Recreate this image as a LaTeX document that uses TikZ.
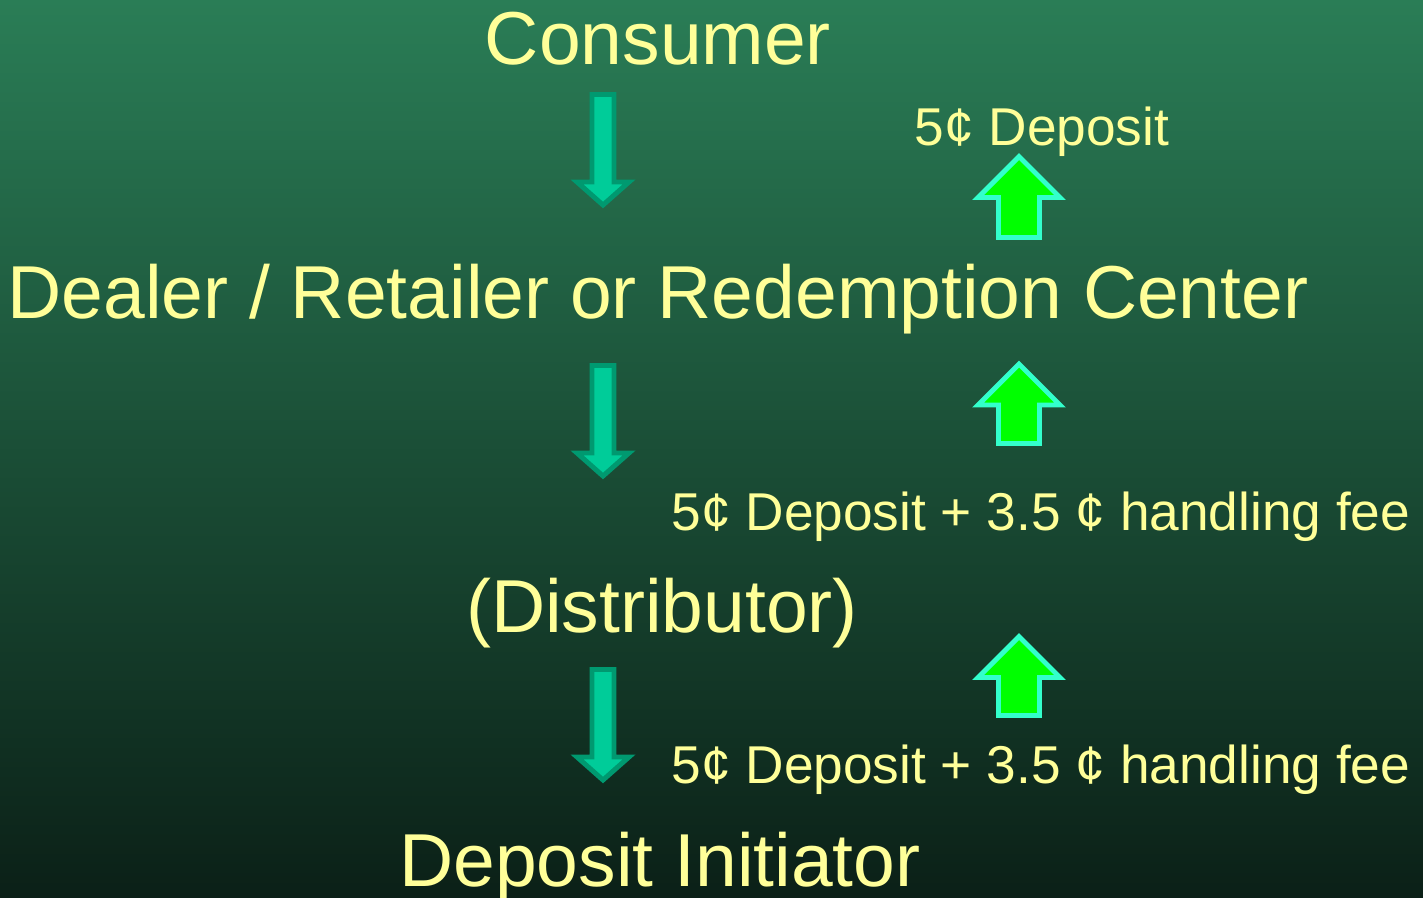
\documentclass[tikz,border=0pt]{standalone}
\usepackage{fontspec}
\setmainfont{Liberation Sans}
\definecolor{bgtop}{RGB}{42,125,86}
\definecolor{bgbot}{RGB}{11,32,23}
\definecolor{txtyel}{RGB}{255,255,153}
\definecolor{dnfill}{RGB}{0,204,153}
\definecolor{dnline}{RGB}{0,153,112}
\definecolor{upfill}{RGB}{0,255,0}
\definecolor{upline}{RGB}{51,255,204}

\begin{document}
\begin{tikzpicture}[x=0.02cm, y=-0.02cm,
    bigtxt/.style={text=txtyel, font=\fontsize{42.7}{50}\selectfont, inner sep=0pt, anchor=base},
    smalltxt/.style={text=txtyel, font=\fontsize{30.3}{36}\selectfont, inner sep=0pt, anchor=base},
    downarr/.style={fill=dnfill, draw=dnline, line width=2.8pt},
    uparr/.style={fill=upfill, draw=upline, line width=2.8pt}]
            % background
            \shade[top color=bgtop, bottom color=bgbot] (0,0) rectangle (1423,897);
            \useasboundingbox (0,0) rectangle (1423,897);
            % chain of parties
            \node[bigtxt] (consumer) at (658,64) {Consumer};
            \node[bigtxt] (dealer) at (658,318) {Dealer / Retailer or Redemption Center};
            \node[bigtxt] (distributor) at (662,632) {(Distributor)};
            \node[bigtxt] (initiator) at (660,886) {Deposit Initiator};
            % containers going down
            \draw[downarr] (592,94.5) -- (614,94.5) -- (614,182) -- (629,182) -- (603,205) -- (577,182) -- (592,182) -- cycle;
            \draw[downarr] (592,365.5) -- (614,365.5) -- (614,453) -- (629,453) -- (603,476) -- (577,453) -- (592,453) -- cycle;
            \draw[downarr] (592,669.5) -- (614,669.5) -- (614,757) -- (629,757) -- (603,780) -- (577,757) -- (592,757) -- cycle;
            % money going up
            \draw[uparr] (998.5,237.5) -- (1039.5,237.5) -- (1039.5,197.5) -- (1060,197.5) -- (1019,156.5) -- (978,197.5) -- (998.5,197.5) -- cycle;
            \draw[uparr] (998.5,443.5) -- (1039.5,443.5) -- (1039.5,405) -- (1060,405) -- (1019,364) -- (978,405) -- (998.5,405) -- cycle;
            \draw[uparr] (998.5,715.5) -- (1039.5,715.5) -- (1039.5,677.5) -- (1060,677.5) -- (1019,636.5) -- (978,677.5) -- (998.5,677.5) -- cycle;
            \node[smalltxt] (pay1) at (1042,145) {5¢ Deposit};
            \node[smalltxt] (pay2) at (1041,530) {5¢ Deposit + 3.5 ¢ handling fee};
            \node[smalltxt] (pay3) at (1041,783) {5¢ Deposit + 3.5 ¢ handling fee};
\end{tikzpicture}
\end{document}
